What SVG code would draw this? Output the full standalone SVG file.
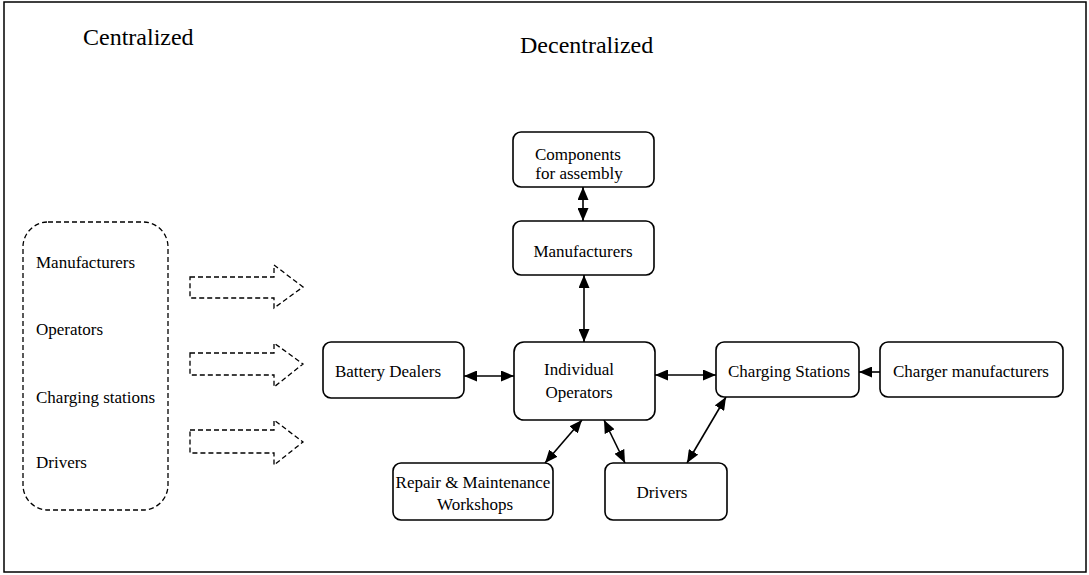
<svg xmlns="http://www.w3.org/2000/svg" width="1089" height="575" viewBox="0 0 1089 575">
<style>
text{font-family:"Liberation Serif","Times New Roman",serif;fill:#000}
.t{font-size:17px}
.h{font-size:24px}
.box{fill:#fff;stroke:#000;stroke-width:1.6}
.dash{fill:none;stroke:#000;stroke-width:1.3;stroke-dasharray:5,3}
.c{fill:none;stroke:#000;stroke-width:1.6}
</style>
<defs>
<marker id="ah" viewBox="0 0 13 11" refX="13" refY="5.5" markerWidth="13" markerHeight="11" markerUnits="userSpaceOnUse" orient="auto-start-reverse">
<path d="M0,0 L13,5.5 L0,11 Z" fill="#000"/>
</marker>
</defs>
<rect x="4" y="2" width="1082" height="570" fill="#fff" stroke="#000" stroke-width="1.5"/>
<text class="h" x="83" y="45">Centralized</text>
<text class="h" x="520" y="53">Decentralized</text>
<g id="centralized">
<rect class="dash" x="23" y="222" width="145" height="288" rx="25"/>
<text class="t" x="36" y="268">Manufacturers</text>
<text class="t" x="36" y="335">Operators</text>
<text class="t" x="36" y="403">Charging stations</text>
<text class="t" x="36" y="468">Drivers</text>
</g>
<g id="dashed-arrows">
<path class="dash" d="M190,277 L274,277 L274,265 L303,287 L274,308 L274,298 L190,298 Z"/>
<path class="dash" d="M190,353 L274,353 L274,343 L303,364 L274,387 L274,375 L190,375 Z"/>
<path class="dash" d="M190,430 L274,430 L274,420 L303,442 L274,465 L274,453 L190,453 Z"/>
</g>
<g id="connectors">
<line class="c" x1="583" y1="187" x2="583" y2="221" marker-start="url(#ah)" marker-end="url(#ah)"/>
<line class="c" x1="584" y1="275" x2="584" y2="342" marker-start="url(#ah)" marker-end="url(#ah)"/>
<line class="c" x1="464" y1="376" x2="514" y2="376" marker-start="url(#ah)" marker-end="url(#ah)"/>
<line class="c" x1="655" y1="375" x2="716" y2="375" marker-start="url(#ah)" marker-end="url(#ah)"/>
<line class="c" x1="880" y1="372" x2="859" y2="372" marker-end="url(#ah)"/>
<line class="c" x1="545" y1="463" x2="582" y2="420" marker-start="url(#ah)" marker-end="url(#ah)"/>
<line class="c" x1="604" y1="420" x2="625" y2="463" marker-start="url(#ah)" marker-end="url(#ah)"/>
<line class="c" x1="687" y1="463" x2="726" y2="397" marker-start="url(#ah)" marker-end="url(#ah)"/>
</g>
<g id="components">
<rect class="box" x="513" y="132" width="141" height="55" rx="8"/>
<text class="t" x="578" y="160" text-anchor="middle">Components</text>
<text class="t" x="579" y="179" text-anchor="middle">for assembly</text>
</g>
<g id="manufacturers">
<rect class="box" x="513" y="221" width="141" height="54" rx="8"/>
<text class="t" x="583" y="257" text-anchor="middle">Manufacturers</text>
</g>
<g id="battery-dealers">
<rect class="box" x="323" y="342" width="141" height="56" rx="8"/>
<text class="t" x="388" y="377" text-anchor="middle">Battery Dealers</text>
</g>
<g id="individual-operators">
<rect class="box" x="514" y="342" width="141" height="78" rx="10"/>
<text class="t" x="579" y="375" text-anchor="middle">Individual</text>
<text class="t" x="579" y="398" text-anchor="middle">Operators</text>
</g>
<g id="charging-stations">
<rect class="box" x="716" y="342" width="143" height="55" rx="8"/>
<text class="t" x="789" y="377" text-anchor="middle">Charging Stations</text>
</g>
<g id="charger-manufacturers">
<rect class="box" x="880" y="342" width="183" height="55" rx="8"/>
<text class="t" x="971" y="377" text-anchor="middle">Charger manufacturers</text>
</g>
<g id="repair">
<rect class="box" x="393" y="463" width="160" height="57" rx="8"/>
<text class="t" x="473" y="488" text-anchor="middle">Repair &amp; Maintenance</text>
<text class="t" x="475" y="510" text-anchor="middle">Workshops</text>
</g>
<g id="drivers">
<rect class="box" x="605" y="463" width="122" height="57" rx="8"/>
<text class="t" x="662" y="498" text-anchor="middle">Drivers</text>
</g>
</svg>
